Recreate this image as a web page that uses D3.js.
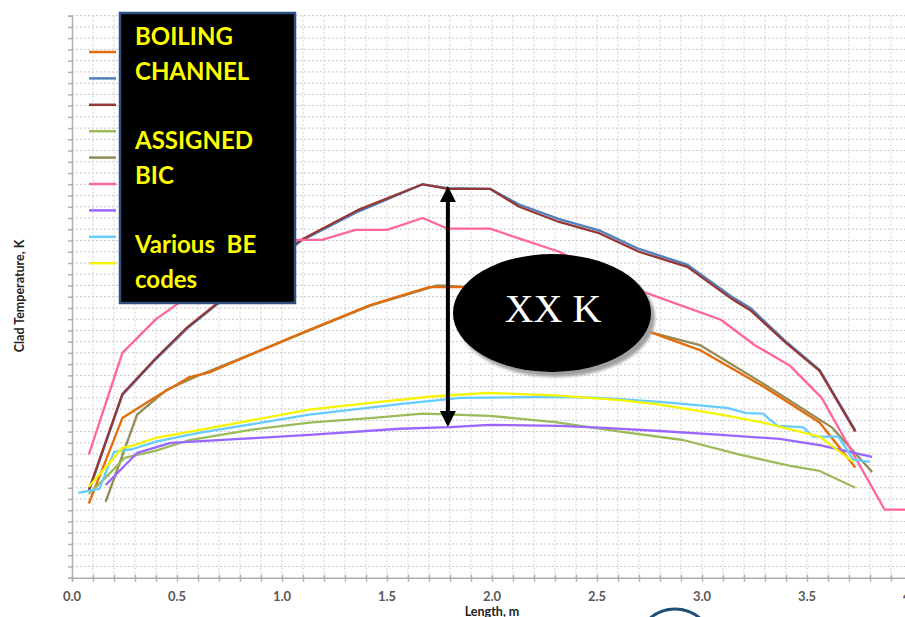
<!DOCTYPE html>
<html>
<head>
<meta charset="utf-8">
<script src="https://cdn.jsdelivr.net/npm/d3@7"></script>
<style>
body { margin:0; background:#fff; }
svg { display:block; }
.tickLabel { font-family: Lato, "Liberation Sans", sans-serif; font-weight:bold; font-size:13px; fill:#595959; }
.axisTitle { font-family: Lato, "Liberation Sans", sans-serif; font-weight:bold; font-size:12.5px; fill:#222; }
.boxText { font-family: Lato, "Liberation Sans", sans-serif; font-weight:bold; font-size:24px; fill:#ffff00; }
</style>
</head>
<body>
<svg id="cladgraph"></svg>
<script>
// length (m), clad temperature (K)
var series1 = [[0.08,532],[0.24,684],[0.40,722],[0.56,757],[0.66,766],[0.87,800],[1.13,841],[1.42,885],[1.70,917],[1.86,917],[1.99,915],[2.30,885],[2.51,862],[2.76,836],[2.99,805],[3.28,743],[3.56,676],[3.73,596]];
var series2 = [[0.08,553],[0.24,725],[0.40,789],[0.55,844],[0.71,892],[0.87,936],[1.09,999],[1.36,1051],[1.67,1100],[1.79,1093],[1.99,1092],[2.13,1064],[2.32,1038],[2.51,1018],[2.70,985],[2.93,957],[3.15,898],[3.23,880],[3.40,820],[3.56,770],[3.73,662]];
var series3 = [[0.08,556],[0.24,727],[0.40,791],[0.55,846],[0.71,894],[0.87,939],[1.09,1001],[1.36,1054],[1.67,1100],[1.79,1092],[1.99,1092],[2.13,1060],[2.32,1033],[2.51,1013],[2.70,980],[2.93,953],[3.15,894],[3.23,876],[3.40,818],[3.56,768],[3.73,660]];
var series4 = [[0.08,549],[0.16,578],[0.25,613],[0.40,626],[0.56,645],[0.85,663],[1.13,676],[1.42,684],[1.67,692],[1.99,688],[2.30,677],[2.61,660],[2.91,645],[3.18,619],[3.42,599],[3.56,590],[3.73,560]];
var series5 = [[0.16,535],[0.31,690],[0.45,734],[0.61,761],[0.87,800],[1.13,840],[1.42,884],[1.74,920],[1.86,918],[2.30,889],[2.51,866],[2.76,836],[2.99,814],[3.28,748],[3.62,667],[3.81,588]];
var series6 = [[0.08,619],[0.24,800],[0.40,860],[0.55,900],[0.71,942],[0.87,978],[1.04,1001],[1.19,1001],[1.35,1019],[1.50,1019],[1.67,1040],[1.79,1021],[1.99,1021],[2.32,980],[2.63,921],[2.80,898],[3.09,859],[3.25,814],[3.42,777],[3.57,720],[3.87,521],[3.99,521]];
var series7 = [[0.16,565],[0.31,622],[0.47,640],[0.80,647],[1.13,654],[1.56,665],[1.80,668],[1.99,672],[2.32,670],[2.51,667],[2.80,661],[3.09,654],[3.37,647],[3.56,636],[3.81,615]];
var series8 = [[0.03,551],[0.13,558],[0.20,624],[0.29,629],[0.40,642],[0.61,658],[1.13,690],[1.56,709],[1.85,720],[2.32,722],[2.51,720],[2.80,713],[3.12,702],[3.21,693],[3.29,692],[3.36,670],[3.48,668],[3.53,651],[3.65,651],[3.72,610],[3.80,606]];
var series9 = [[0.08,562],[0.24,631],[0.29,635],[0.40,649],[0.61,663],[1.13,699],[1.42,711],[1.70,722],[1.98,729],[2.32,724],[2.61,716],[2.80,708],[3.09,690],[3.28,677],[3.56,651],[3.72,606]];

var allSeries = [series1,series2,series3,series4,series5,series6,series7,series8,series9];
var seriesColors = ["#e46c0a","#4f81bd","#953735","#9bbb59","#948a54","#ff6699","#9966ff","#66ccff","#f5f500"];
// olive goes under orange, the rest in legend order
var drawOrder = [4,0,1,2,3,5,6,7,8];
var xTicks = [0,0.5,1,1.5,2,2.5,3,3.5,4];
var xTickLabels = ["0.0","0.5","1.0","1.5","2.0","2.5","3.0","3.5","4.0"];
var boxLines = ["BOILING","CHANNEL","","ASSIGNED","BIC","","Various  BE","codes"];
var deltaLabel = "XX K";
var peakLength = 1.79, peakTop = 1097, peakBottom = 668;

var screen = {width:905,height:617};
var margins = {left:72,top:15.7,right:0,bottom:39.3};
var graph = {width:840,height:screen.height-margins.top-margins.bottom};

var svg = d3.select("#cladgraph")
    .attr("width",screen.width)
    .attr("height",screen.height);

var xScale = d3.scaleLinear().domain([0,4]).range([margins.left,margins.left+graph.width]);
var yScale = d3.scaleLinear().domain([400,1400]).range([margins.top+graph.height,margins.top]);

// grid
var drawGrid = function()
{
    var grid = svg.append("g").classed("grid",true);
    grid.selectAll("line.h")
        .data(d3.range(420,1401,20))
        .enter().append("line")
        .attr("x1",xScale(0)).attr("x2",screen.width)
        .attr("y1",function(d){return yScale(d)})
        .attr("y2",function(d){return yScale(d)})
        .attr("stroke","#c6c6c6").attr("stroke-dasharray","2,2");
    grid.selectAll("line.v")
        .data(d3.range(1,41).map(function(i){return i/10}))
        .enter().append("line")
        .attr("x1",function(d){return xScale(d)})
        .attr("x2",function(d){return xScale(d)})
        .attr("y1",yScale(1400)).attr("y2",yScale(400))
        .attr("stroke","#d0d0d0").attr("stroke-dasharray","2,2");
}

var drawAxes = function()
{
    var yAxis = d3.axisLeft(yScale).tickValues(d3.range(400,1401,20)).tickSize(4).tickFormat("");
    var ya = svg.append("g")
        .attr("transform","translate("+margins.left+",0)")
        .call(yAxis);
    ya.selectAll("path,line").attr("stroke","#b0b0b0").attr("stroke-width",1.5);

    var xAxis = d3.axisBottom(xScale).tickValues(d3.range(0,41).map(function(i){return i/10})).tickSize(4).tickFormat("");
    var xa = svg.append("g")
        .attr("transform","translate(0,"+yScale(400)+")")
        .call(xAxis);
    xa.selectAll("path,line").attr("stroke","#b0b0b0").attr("stroke-width",1.5);
    xa.selectAll(".tick line").attr("y1",-3);

    svg.append("g").selectAll("text")
        .data(xTicks)
        .enter().append("text")
        .classed("tickLabel",true)
        .attr("text-anchor","middle")
        .attr("x",function(d){return xScale(d)})
        .attr("y",601)
        .text(function(d,i){return xTickLabels[i]});

    svg.append("text")
        .classed("axisTitle",true)
        .attr("text-anchor","middle")
        .attr("x",xScale(2))
        .attr("y",616)
        .text("Length, m");

    svg.append("g")
        .attr("transform","translate(24,296)")
        .append("text")
        .classed("axisTitle",true)
        .attr("text-anchor","middle")
        .attr("transform","rotate(270)")
        .text("Clad Temperature, K");
}

var drawLines = function()
{
    var line = d3.line()
        .x(function(d){return xScale(d[0])})
        .y(function(d){return yScale(d[1])});
    svg.append("g").selectAll("path")
        .data(drawOrder)
        .enter().append("path")
        .attr("d",function(k){return line(allSeries[k])})
        .attr("fill","none")
        .attr("stroke-width",2.3)
        .attr("stroke-linejoin","round")
        .attr("stroke",function(k){return seriesColors[k]});
}

var drawLegend = function()
{
    var legend = svg.append("g").attr("transform","translate(89,52)");
    legend.selectAll("line")
        .data(seriesColors)
        .enter().append("line")
        .attr("x1",0).attr("x2",27)
        .attr("y1",function(d,i){return i*26.4})
        .attr("y2",function(d,i){return i*26.4})
        .attr("stroke",function(d){return d})
        .attr("stroke-width",2.5);

    svg.append("rect")
        .attr("x",120).attr("y",13)
        .attr("width",175).attr("height",290)
        .attr("fill","#000")
        .attr("stroke","#2f4f7f")
        .attr("stroke-width",2.5);

    svg.append("g").selectAll("text")
        .data(boxLines)
        .enter().append("text")
        .classed("boxText",true)
        .attr("x",135)
        .attr("y",function(d,i){return 45+i*34.7})
        .attr("xml:space","preserve")
        .style("white-space","pre")
        .text(function(d){return d});
}

var drawNotes = function()
{
    var defs = svg.append("defs");
    defs.append("filter").attr("id","blur")
        .append("feGaussianBlur").attr("stdDeviation",1.5);

    // double arrow
    var ax = xScale(peakLength);
    var top = yScale(peakTop), bottom = yScale(peakBottom);
    svg.append("line")
        .attr("x1",ax).attr("x2",ax)
        .attr("y1",top+10).attr("y2",bottom-10)
        .attr("stroke","#000").attr("stroke-width",4);
    svg.append("path")
        .attr("d","M"+ax+","+top+" L"+(ax-8)+","+(top+16)+" L"+(ax+8)+","+(top+16)+" Z")
        .attr("fill","#000");
    svg.append("path")
        .attr("d","M"+ax+","+bottom+" L"+(ax-8)+","+(bottom-16)+" L"+(ax+8)+","+(bottom-16)+" Z")
        .attr("fill","#000");

    // callout ellipse
    svg.append("ellipse")
        .attr("cx",556).attr("cy",318).attr("rx",99).attr("ry",59)
        .attr("fill","#a0a0a0")
        .attr("filter","url(#blur)");
    svg.append("ellipse")
        .attr("cx",552).attr("cy",313).attr("rx",99).attr("ry",59)
        .attr("fill","#000");
    svg.append("text")
        .attr("x",553).attr("y",322)
        .attr("text-anchor","middle")
        .attr("font-family","'Liberation Serif', 'DejaVu Serif', serif")
        .attr("font-size",40)
        .attr("fill","#fff")
        .text(deltaLabel);

    // bit of a logo under the axis
    svg.append("ellipse")
        .attr("cx",675).attr("cy",642).attr("rx",36).attr("ry",33)
        .attr("fill","none")
        .attr("stroke","#1f4e79")
        .attr("stroke-width",3);
}

drawGrid();
drawAxes();
drawLines();
drawLegend();
drawNotes();
</script>
</body>
</html>
